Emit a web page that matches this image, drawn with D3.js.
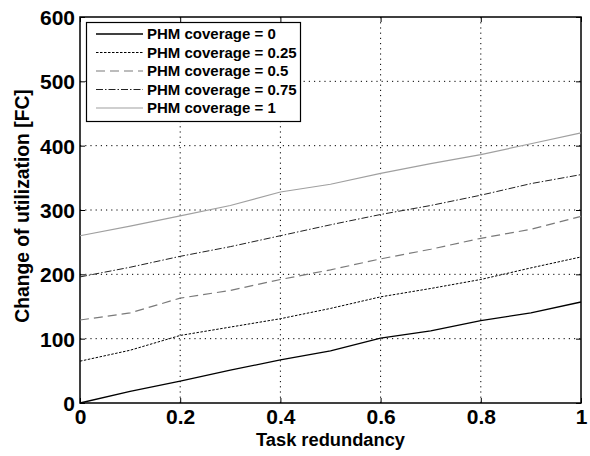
<!DOCTYPE html>
<html>
<head>
<meta charset="utf-8">
<script src="https://cdn.jsdelivr.net/npm/d3@7"></script>
<style>
	body { margin: 0; background: #fff; }
	svg text { font-family: "Liberation Sans", Arial, sans-serif; font-weight: bold; fill: #000; }
</style>
</head>
<body>
<svg id="chart" width="590" height="456"></svg>
<script>
// data
var redundancy = [0, 0.1, 0.2, 0.3, 0.4, 0.5, 0.6, 0.7, 0.8, 0.9, 1];
var cov0 = [0, 18, 34, 51, 67, 81, 101, 112, 128, 140, 157];
var cov025 = [65, 82, 105, 118, 131, 147, 165, 178, 192, 210, 227];
var cov05 = [129, 140, 163, 175, 192, 207, 224, 239, 256, 270, 290];
var cov075 = [196, 211, 228, 243, 260, 277, 293, 307, 323, 341, 355];
var cov1 = [260, 275, 291, 307, 328, 340, 357, 372, 386, 403, 420];
var seriesNames = ["PHM coverage = 0", "PHM coverage = 0.25", "PHM coverage = 0.5", "PHM coverage = 0.75", "PHM coverage = 1"];
var xTicks = [0, 0.2, 0.4, 0.6, 0.8, 1];
var yTicks = [0, 100, 200, 300, 400, 500, 600];

var series = [
	{name: seriesNames[0], values: cov0, color: "#000", dash: null, width: 1.3},
	{name: seriesNames[1], values: cov025, color: "#000", dash: "2.5,1.5", width: 1},
	{name: seriesNames[2], values: cov05, color: "#7a7a7a", dash: "9,5", width: 1.2},
	{name: seriesNames[3], values: cov075, color: "#222", dash: "7,2,1.5,2", width: 1},
	{name: seriesNames[4], values: cov1, color: "#a0a0a0", dash: null, width: 1.2}
];

const margin = {top: 17, right: 9, bottom: 53, left: 80};
const width = 590, height = 456;

var svg = d3.select("#chart");

var x = d3.scaleLinear().domain([0, 1]).range([margin.left, width - margin.right]);
var y = d3.scaleLinear().domain([0, 600]).range([height - margin.bottom, margin.top]);

// grid
var grid = svg.append("g");
xTicks.slice(1, -1).forEach(function(t) {
	grid.append("line")
		.attr("x1", x(t)).attr("x2", x(t))
		.attr("y1", y(0)).attr("y2", y(600))
		.attr("stroke", "#000").attr("stroke-width", 1)
		.attr("stroke-dasharray", "1.2,4");
});
yTicks.slice(1, -1).forEach(function(t) {
	grid.append("line")
		.attr("x1", x(0)).attr("x2", x(1))
		.attr("y1", y(t)).attr("y2", y(t))
		.attr("stroke", "#000").attr("stroke-width", 1)
		.attr("stroke-dasharray", "1.2,4");
});

// axes
var xAxis = svg.append("g")
	.attr("transform", "translate(0," + y(0) + ")")
	.call(d3.axisBottom(x).tickValues(xTicks).tickFormat(d3.format("")).tickSizeInner(-5).tickSizeOuter(0).tickPadding(6));
var xAxisTop = svg.append("g")
	.attr("transform", "translate(0," + y(600) + ")")
	.call(d3.axisTop(x).tickValues(xTicks).tickFormat("").tickSizeInner(-5).tickSizeOuter(0));
var yAxis = svg.append("g")
	.attr("transform", "translate(" + x(0) + ",0)")
	.call(d3.axisLeft(y).tickValues(yTicks).tickSizeInner(-5).tickSizeOuter(0).tickPadding(5));
var yAxisRight = svg.append("g")
	.attr("transform", "translate(" + x(1) + ",0)")
	.call(d3.axisRight(y).tickValues(yTicks).tickFormat("").tickSizeInner(-5).tickSizeOuter(0));

[xAxis, xAxisTop, yAxis, yAxisRight].forEach(function(a) {
	a.select(".domain").remove();
	a.selectAll("line").attr("stroke", "#000");
	a.selectAll("text").style("font-size", "21px").attr("fill", "#000");
});
xAxis.selectAll("text").attr("dy", "0.72em");
yAxis.selectAll("text").attr("dy", "0.36em");

// box
svg.append("rect")
	.attr("x", x(0)).attr("y", y(600))
	.attr("width", x(1) - x(0)).attr("height", y(0) - y(600))
	.attr("fill", "none").attr("stroke", "#000").attr("stroke-width", 1.5);

// lines
var line = d3.line()
	.x(function(d, i) { return x(redundancy[i]); })
	.y(function(d) { return y(d); });

series.forEach(function(s) {
	svg.append("path")
		.datum(s.values)
		.attr("fill", "none")
		.attr("stroke", s.color)
		.attr("stroke-width", s.width)
		.attr("stroke-dasharray", s.dash)
		.attr("d", line);
});

// axis titles
svg.append("text")
	.attr("x", (x(0) + x(1)) / 2).attr("y", 446)
	.attr("text-anchor", "middle")
	.style("font-size", "18.3px")
	.text("Task redundancy");
svg.append("text")
	.attr("transform", "translate(29,206) rotate(-90)")
	.attr("text-anchor", "middle")
	.style("font-size", "19.3px")
	.text("Change of utilization [FC]");

// legend
var legend = svg.append("g");
legend.append("rect")
	.attr("x", 86.5).attr("y", 22.5)
	.attr("width", 214).attr("height", 99)
	.attr("fill", "#fff").attr("stroke", "#000").attr("stroke-width", 1.2);
series.forEach(function(s, i) {
	var ly = 34 + i * 18.5;
	legend.append("line")
		.attr("x1", 96).attr("x2", 143)
		.attr("y1", ly).attr("y2", ly)
		.attr("stroke", s.color)
		.attr("stroke-width", s.width)
		.attr("stroke-dasharray", s.dash);
	legend.append("text")
		.attr("x", 147).attr("y", ly)
		.attr("dy", "0.36em")
		.style("font-size", "15px")
		.text(s.name);
});
</script>
</body>
</html>
